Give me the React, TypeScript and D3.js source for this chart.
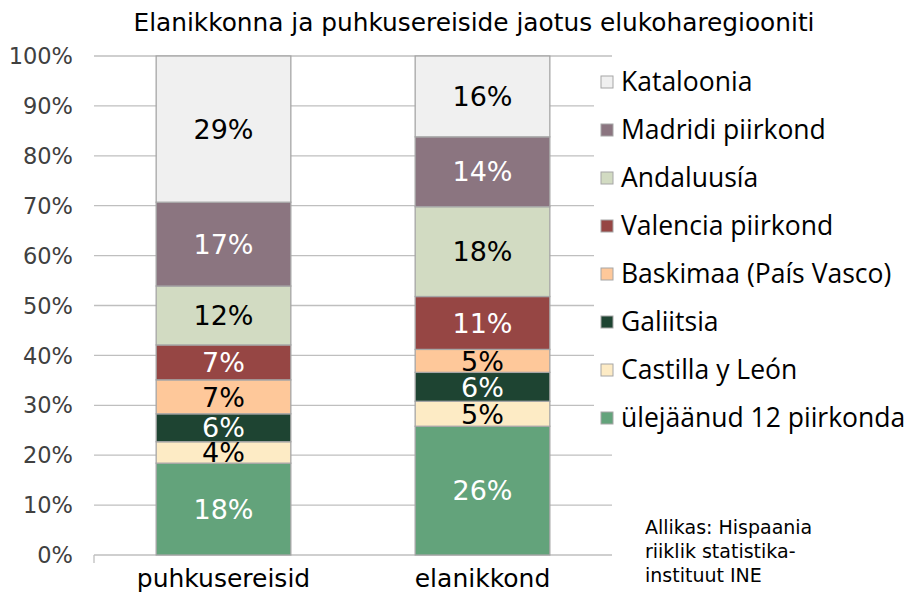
import React from "react";
import * as d3 from "d3";

const categories = ["puhkusereisid", "elanikkond"];
const seriesNames = [
  "ülejäänud 12 piirkonda",
  "Castilla y León",
  "Galiitsia",
  "Baskimaa (País Vasco)",
  "Valencia piirkond",
  "Andaluusía",
  "Madridi piirkond",
  "Kataloonia",
];
const puhkusereisid = [18.4, 4.3, 5.6, 6.8, 7.0, 11.8, 16.8, 29.3];
const elanikkond = [25.8, 5.0, 5.8, 4.6, 10.6, 18.0, 14.0, 16.2];
const yTicks = [0, 10, 20, 30, 40, 50, 60, 70, 80, 90, 100];
const colors = ["#63a37b", "#fdebc5", "#1e4432", "#fec89a", "#964644", "#d2dbc2", "#8b7580", "#f0f0f0"];
const labelColors = ["#fff", "#000", "#fff", "#000", "#fff", "#000", "#fff", "#000"];

const W = 909, H = 593;
const M = { left: 94, right: 612, top: 56, bottom: 555 };
const FONT = "'DejaVu Sans', sans-serif";
const LFONT = "'Open Sans', sans-serif";

export default function App() {
  const x = d3.scaleBand().domain(categories).range([M.left, M.right]).paddingInner(0.48).paddingOuter(0.24);
  const y = d3.scaleLinear().domain([0, 100]).range([M.bottom, M.top]);
  const rows = categories.map((c, i) => {
    const vals = i === 0 ? puhkusereisid : elanikkond;
    const o: any = { cat: c };
    seriesNames.forEach((s, j) => (o[s] = vals[j]));
    return o;
  });
  const stacked = d3.stack().keys(seriesNames)(rows);
  const fmt = (v: number) => Math.round(v) + "%";
  const legendOrder = [...seriesNames].reverse();

  return (
    <svg width={W} height={H} style={{ position: "absolute", left: 0, top: 0 }}>
      <rect width={W} height={H} fill="#fff" />
      <text x={474} y={31} textAnchor="middle" fontFamily={FONT} fontSize={24.8} fill="#000">
        Elanikkonna ja puhkusereiside jaotus elukoharegiooniti
      </text>
      {yTicks.map((t) => (
        <g key={t}>
          <line x1={M.left} x2={M.right} y1={y(t)} y2={y(t)} stroke="#bfbfbf" strokeWidth={1.3} />
          <text x={73} y={y(t)} dy="0.36em" textAnchor="end" fontFamily={FONT} fontSize={22.5} fill="#404040">
            {t}%
          </text>
        </g>
      ))}
      <line x1={M.left} x2={M.left} y1={M.bottom} y2={M.bottom + 8} stroke="#bfbfbf" strokeWidth={1.3} />
      {stacked.map((layer, j) =>
        layer.map((d, i) => {
          const cat = categories[i];
          const x0 = x(cat)!;
          const y0 = y(d[1]);
          const h = y(d[0]) - y(d[1]);
          return (
            <rect key={j + "-" + i} x={x0} y={y0} width={x.bandwidth()} height={h} fill={colors[j]} stroke="#a6a6a6" strokeWidth={1.3} />
          );
        })
      )}
      {stacked.map((layer, j) =>
        layer.map((d, i) => {
          const cat = categories[i];
          const cx = x(cat)! + x.bandwidth() / 2;
          const cy = (y(d[0]) + y(d[1])) / 2;
          return (
            <text key={"l" + j + "-" + i} x={cx} y={cy} dy="0.36em" textAnchor="middle" fontFamily={FONT} fontSize={27} fill={labelColors[j]}>
              {fmt(d[1] - d[0])}
            </text>
          );
        })
      )}
      {categories.map((c) => (
        <text key={c} x={x(c)! + x.bandwidth() / 2} y={587} textAnchor="middle" fontFamily={FONT} fontSize={25} fill="#000">
          {c}
        </text>
      ))}
      <rect x={594} y={60} width={315} height={380} fill="#fff" />
      {legendOrder.map((s, k) => {
        const j = seriesNames.indexOf(s);
        const cy = 82 + k * 48;
        return (
          <g key={s}>
            <rect x={601} y={cy - 6} width={12} height={12} fill={colors[j]} stroke="#a6a6a6" strokeWidth={1} />
            <text x={621} y={cy} dy="0.35em" fontFamily={LFONT} fontSize={26.5} fill="#000">
              {s}
            </text>
          </g>
        );
      })}
      {["Allikas: Hispaania", "riiklik statistika-", "instituut INE"].map((t, k) => (
        <text key={t} x={645} y={534 + k * 24} fontFamily={FONT} fontSize={19} fill="#000">
          {t}
        </text>
      ))}
    </svg>
  );
}
